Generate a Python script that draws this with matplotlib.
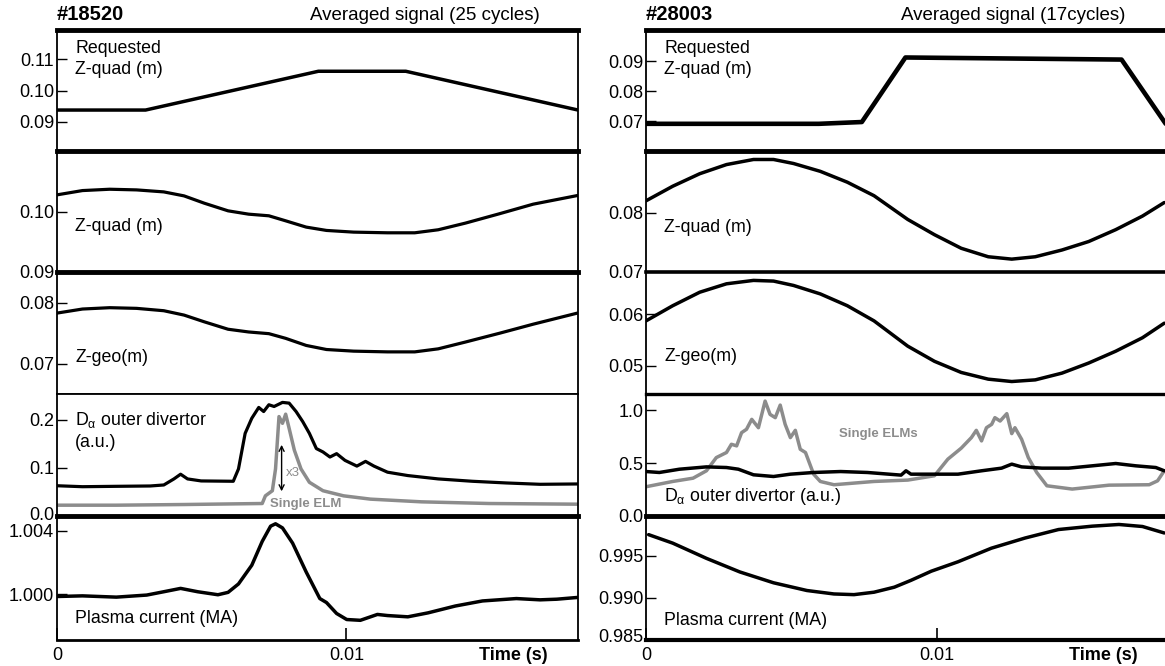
import matplotlib
matplotlib.use("Agg")
import matplotlib.pyplot as plt
from matplotlib.transforms import ScaledTranslation

plt.rcParams['font.family'] = ['Liberation Sans', 'DejaVu Sans']
plt.rcParams['mathtext.fontset'] = 'custom'
plt.rcParams['mathtext.rm'] = 'Liberation Sans'
plt.rcParams['mathtext.it'] = 'Liberation Sans'

# ---- shot #18520 (left column) ----
l_req_t = [0, 0.00306, 0.00903, 0.01205, 0.018]
l_req_v = [0.0937, 0.0937, 0.1062, 0.1062, 0.0937]

l_zq_t = [0, 0.00088, 0.00182, 0.00275, 0.00369, 0.00439, 0.00509, 0.00591, 0.00662,
          0.00732, 0.0079, 0.00861, 0.00931, 0.01025, 0.01142, 0.01236, 0.01317,
          0.01411, 0.01528, 0.01645, 0.01798]
l_zq_v = [0.10275, 0.10346, 0.10368, 0.10357, 0.10324, 0.10258, 0.10137, 0.10011, 0.09956,
          0.09929, 0.09846, 0.09742, 0.09687, 0.09659, 0.09648, 0.09648, 0.09698,
          0.09808, 0.09962, 0.10121, 0.10264]

l_zg_t = l_zq_t
l_zg_v = [0.07833, 0.0790, 0.07922, 0.07911, 0.07872, 0.0780, 0.07689, 0.07567, 0.07522,
          0.07494, 0.07417, 0.0730, 0.07233, 0.07206, 0.07194, 0.07194, 0.07244,
          0.07356, 0.0750, 0.0765, 0.07833]

l_da_t = [0, 0.00088, 0.00205, 0.00322, 0.00369, 0.00404, 0.00427, 0.00451, 0.00498,
          0.00609, 0.00627, 0.0065, 0.00673, 0.00697, 0.00714, 0.00732, 0.0075, 0.00779,
          0.00802, 0.00826, 0.00849, 0.00872, 0.00896, 0.00919, 0.00943, 0.00966,
          0.00995, 0.01036, 0.01066, 0.01095, 0.01142, 0.01212, 0.01317, 0.01435,
          0.01552, 0.01669, 0.01798]
l_da_v = [0.063, 0.061, 0.0618, 0.0625, 0.0646, 0.0772, 0.087, 0.0772, 0.073,
          0.0723, 0.098, 0.172, 0.2035, 0.226, 0.2175, 0.2316, 0.228, 0.2365,
          0.235, 0.2175, 0.1965, 0.172, 0.1404, 0.1333, 0.1228, 0.1298,
          0.1158, 0.1039, 0.1137, 0.1039, 0.0912, 0.0842, 0.0772, 0.0723,
          0.0688, 0.066, 0.0667]

l_elm_t = [0, 0.00205, 0.00439, 0.00709, 0.0072, 0.00744, 0.00755, 0.00767, 0.00779,
           0.0079, 0.00802, 0.0082, 0.00843, 0.00872, 0.00919, 0.0099, 0.01083,
           0.01259, 0.01493, 0.01798]
l_elm_v = [0.0225, 0.0225, 0.0239, 0.026, 0.042, 0.0526, 0.098, 0.207, 0.193,
           0.212, 0.1825, 0.137, 0.098, 0.0702, 0.0526, 0.042, 0.0351,
           0.0295, 0.026, 0.0246]

l_ip_t = [0, 0.00088, 0.00205, 0.0031, 0.00369, 0.00427, 0.00486, 0.00556, 0.00591,
          0.00627, 0.00673, 0.00709, 0.00738, 0.00755, 0.00779, 0.00814, 0.00861,
          0.00908, 0.00931, 0.00966, 0.01001, 0.01048, 0.01107, 0.01142, 0.01212,
          0.01282, 0.01376, 0.0147, 0.01587, 0.01669, 0.01727, 0.01798]
l_ip_v = [0.99985, 0.99989, 0.99981, 0.99994, 1.00015, 1.00036, 1.00015, 0.99996, 1.00011,
          1.00064, 1.00182, 1.00332, 1.00428, 1.00443, 1.00417, 1.00321, 1.00139,
          0.99972, 0.99947, 0.99878, 0.9984, 0.99835, 0.99872, 0.99865, 0.99857,
          0.99882, 0.99925, 0.99957, 0.99972, 0.99964, 0.99968, 0.99979]

# ---- shot #28003 (right column) ----
r_req_t = [0, 0.00595, 0.00743, 0.00893, 0.01637, 0.01789]
r_req_v = [0.0691, 0.0691, 0.0697, 0.0913, 0.0906, 0.0691]

r_zq_t = [0, 0.00092, 0.00185, 0.00277, 0.0037, 0.00439, 0.00508, 0.006, 0.00693,
          0.00785, 0.00901, 0.00993, 0.01085, 0.01178, 0.01259, 0.0134, 0.01432,
          0.01524, 0.01617, 0.01709, 0.01784]
r_zq_v = [0.0820, 0.08446, 0.08657, 0.08811, 0.08897, 0.08897, 0.08829, 0.08697, 0.08514,
          0.08286, 0.07886, 0.07629, 0.0740, 0.07257, 0.07217, 0.07257, 0.07371,
          0.07514, 0.07714, 0.07943, 0.08171]

r_zg_t = r_zq_t
r_zg_v = [0.05869, 0.06163, 0.06425, 0.06588, 0.06654, 0.06641, 0.06556, 0.06392, 0.06163,
          0.05869, 0.05379, 0.05085, 0.04869, 0.04739, 0.04693, 0.04725, 0.04856,
          0.05052, 0.05281, 0.05542, 0.05824]

r_da_t = [0, 0.00046, 0.00115, 0.00208, 0.00277, 0.00318, 0.0037, 0.00439, 0.00497,
          0.00577, 0.0067, 0.00762, 0.00878, 0.00895, 0.00912, 0.00993, 0.01074,
          0.01155, 0.01224, 0.01259, 0.01293, 0.01363, 0.01455, 0.01536, 0.01617,
          0.01686, 0.01755, 0.01784]
r_da_v = [0.421, 0.412, 0.443, 0.465, 0.459, 0.443, 0.39, 0.374, 0.396,
          0.412, 0.421, 0.412, 0.387, 0.428, 0.396, 0.396, 0.396,
          0.428, 0.453, 0.491, 0.465, 0.453, 0.453, 0.475, 0.497,
          0.475, 0.459, 0.428]

r_elm_t = [0, 0.00092, 0.00162, 0.00208, 0.00242, 0.00277, 0.00294, 0.00312, 0.00329,
           0.00346, 0.00364, 0.00387, 0.0041, 0.00427, 0.00445, 0.00462, 0.00479,
           0.00497, 0.00514, 0.00531, 0.00549, 0.00577, 0.006, 0.00647, 0.00785,
           0.00901, 0.00993, 0.01039, 0.01085, 0.0112, 0.01137, 0.01155, 0.01172,
           0.0119, 0.01201, 0.01219, 0.01242, 0.01259, 0.0127, 0.01293, 0.01316,
           0.01345, 0.0138, 0.01467, 0.01594, 0.01732, 0.01761, 0.01784]
r_elm_v = [0.277, 0.327, 0.358, 0.428, 0.553, 0.601, 0.679, 0.664, 0.789,
           0.821, 0.915, 0.836, 1.088, 0.962, 0.931, 1.05, 0.868,
           0.742, 0.811, 0.632, 0.601, 0.396, 0.327, 0.296, 0.327,
           0.34, 0.381, 0.538, 0.642, 0.742, 0.811, 0.711, 0.836,
           0.868, 0.931, 0.899, 0.969, 0.78, 0.836, 0.726, 0.553,
           0.412, 0.286, 0.255, 0.292, 0.296, 0.333, 0.428]

r_ip_t = [0.00009, 0.00092, 0.00208, 0.00323, 0.00439, 0.00554, 0.00647, 0.00716, 0.00785,
          0.00855, 0.00912, 0.00982, 0.01074, 0.01189, 0.01305, 0.0142, 0.01536,
          0.01628, 0.01709, 0.01784]
r_ip_v = [0.99754, 0.99653, 0.99472, 0.9931, 0.99181, 0.99089, 0.99048, 0.9904, 0.99069,
          0.99129, 0.9921, 0.99319, 0.99431, 0.99593, 0.99714, 0.99815, 0.99855,
          0.99875, 0.99851, 0.99774]

GRAY = '#8c8c8c'
FS = 12.8
W, H = 1165, 666

fig = plt.figure(figsize=(W / 100, H / 100), dpi=100)

row_edges = [30, 151, 272, 394, 516, 640]


def make_axes(x0, x1, row):
    top, bot = row_edges[row], row_edges[row + 1]
    return fig.add_axes([x0 / W, 1 - bot / H, (x1 - x0) / W, (bot - top) / H])


def trace(ax, t, v, color='black', lw=2.3):
    ax.plot(t, v, color=color, lw=lw, solid_joinstyle='round', solid_capstyle='round')


def style(ax, xmax, ylim, yticks, ylabels, top_lw, bottom_lw=1.2, last=False):
    ax.set_xlim(0, xmax)
    ax.set_ylim(*ylim)
    ax.set_yticks(yticks)
    ax.set_yticklabels(ylabels)
    ax.spines['top'].set_linewidth(top_lw)
    ax.spines['bottom'].set_linewidth(bottom_lw)
    ax.spines['left'].set_linewidth(1.3)
    ax.spines['right'].set_linewidth(1.3)
    ax.tick_params(axis='y', direction='in', length=7, width=1, labelsize=13, pad=2)
    if last:
        ax.set_xticks([0, 0.01])
        ax.set_xticklabels(['0', '0.01'])
        ax.tick_params(axis='x', direction='in', length=9, width=1.2, labelsize=13, pad=5)
        ax.text(0.01575, -0.125, 'Time (s)', transform=ax.get_xaxis_transform(),
                ha='center', va='center', fontsize=13, fontweight='bold')
    else:
        ax.set_xticks([])


def nudge_bottom_label(ax, dy_px):
    # lift the lowest y tick label so it clears the panel below
    lab = ax.get_yticklabels()[0]
    lab.set_transform(lab.get_transform() + ScaledTranslation(0, dy_px / 100, fig.dpi_scale_trans))


def label(ax, y, s, va='center'):
    ax.text(0.035, y, s, transform=ax.transAxes, ha='left', va=va,
            fontsize=FS, linespacing=1.35)


# left column
LX0, LX1 = 57, 578
XL = 0.018
axl = [make_axes(LX0, LX1, i) for i in range(5)]

trace(axl[0], l_req_t, l_req_v, lw=2.5)
style(axl[0], XL, (0.0805, 0.1195), [0.09, 0.10, 0.11], ['0.09', '0.10', '0.11'], 3.5)
label(axl[0], 0.92, 'Requested\nZ-quad (m)', va='top')

trace(axl[1], l_zq_t, l_zq_v)
style(axl[1], XL, (0.09, 0.11), [0.09, 0.10], ['0.09', '0.10'], 3.5)
label(axl[1], 0.38, 'Z-quad (m)')

trace(axl[2], l_zg_t, l_zg_v)
style(axl[2], XL, (0.065, 0.0851), [0.07, 0.08], ['0.07', '0.08'], 3.5)
label(axl[2], 0.30, 'Z-geo(m)')

trace(axl[3], l_elm_t, l_elm_v, color=GRAY, lw=2.5)
trace(axl[3], l_da_t, l_da_v, lw=2.3)
axl[3].annotate('', xy=(0.00776, 0.154), xytext=(0.00776, 0.0456),
                arrowprops=dict(arrowstyle='<->', color='black', lw=1.0,
                                mutation_scale=9))
axl[3].text(0.0079, 0.089, 'x3', color=GRAY, fontsize=9.5, ha='left', va='center')
axl[3].text(0.0086, 0.024, 'Single ELM', color=GRAY, fontsize=9.5,
            fontweight='bold', ha='center', va='center')
style(axl[3], XL, (0, 0.254), [0.0, 0.1, 0.2], ['0.0', '0.1', '0.2'], 1.3)
nudge_bottom_label(axl[3], 3)
label(axl[3], 0.70, 'D$_{\\alpha}$ outer divertor\n(a.u.)')

trace(axl[4], l_ip_t, l_ip_v, lw=2.5)
style(axl[4], XL, (0.99711, 1.00492), [1.000, 1.004], ['1.000', '1.004'], 3.5,
      bottom_lw=2.0, last=True)
label(axl[4], 0.17, 'Plasma current (MA)')

# right column
RX0, RX1 = 646, 1166
XR = 0.0179
axr = [make_axes(RX0, RX1, i) for i in range(5)]

trace(axr[0], r_req_t, r_req_v, lw=3.3)
style(axr[0], XR, (0.060, 0.1005), [0.07, 0.08, 0.09], ['0.07', '0.08', '0.09'], 3.5)
label(axr[0], 0.92, 'Requested\nZ-quad (m)', va='top')

trace(axr[1], r_zq_t, r_zq_v, lw=2.5)
style(axr[1], XR, (0.07, 0.0904), [0.07, 0.08], ['0.07', '0.08'], 3.5)
label(axr[1], 0.37, 'Z-quad (m)')

trace(axr[2], r_zg_t, r_zg_v, lw=2.5)
style(axr[2], XR, (0.04451, 0.06817), [0.05, 0.06], ['0.05', '0.06'], 2.6)
label(axr[2], 0.31, 'Z-geo(m)')

trace(axr[3], r_elm_t, r_elm_v, color=GRAY, lw=2.5)
trace(axr[3], r_da_t, r_da_v, lw=2.5)
axr[3].text(0.00798, 0.774, 'Single ELMs', color=GRAY, fontsize=9.5,
            fontweight='bold', ha='center', va='center')
style(axr[3], XR, (0, 1.155), [0.0, 0.5, 1.0], ['0.0', '0.5', '1.0'], 2.4)
label(axr[3], 0.16, 'D$_{\\alpha}$ outer divertor (a.u.)')

trace(axr[4], r_ip_t, r_ip_v, lw=2.5)
style(axr[4], XR, (0.98504, 0.99976), [0.985, 0.990, 0.995], ['0.985', '0.990', '0.995'],
      3.5, bottom_lw=3.0, last=True)
nudge_bottom_label(axr[4], 4)
label(axr[4], 0.16, 'Plasma current (MA)')

# headers
fig.text(LX0 / W, 1 - 15 / H, '#18520', fontsize=14.5, fontweight='bold',
         ha='left', va='center')
fig.text(540 / W, 1 - 15 / H, 'Averaged signal (25 cycles)', fontsize=13.5,
         ha='right', va='center')
fig.text(RX0 / W, 1 - 15 / H, '#28003', fontsize=14.5, fontweight='bold',
         ha='left', va='center')
fig.text(1125 / W, 1 - 15 / H, 'Averaged signal (17cycles)', fontsize=13.5,
         ha='right', va='center')

fig.savefig('out.png', dpi=100)
